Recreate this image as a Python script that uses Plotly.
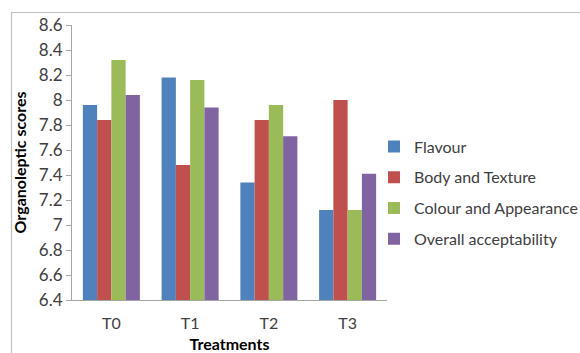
import plotly.graph_objects as go

treatments = ["T0", "T1", "T2", "T3"]
flavour = [7.96, 8.18, 7.34, 7.12]
body_texture = [7.84, 7.48, 7.84, 8.00]
colour_appearance = [8.32, 8.16, 7.96, 7.12]
overall_acceptability = [8.04, 7.94, 7.71, 7.41]

series = [
    ("Flavour", flavour, "#4F81BD"),
    ("Body and Texture", body_texture, "#C0504D"),
    ("Colour and Appearance", colour_appearance, "#9BBB59"),
    ("Overall acceptability", overall_acceptability, "#8064A2"),
]

W, H = 580, 353
L, R, T, B = 72, 193, 25, 53
pw, ph = W - L - R, H - T - B

fig = go.Figure()
for i, (name, vals, col) in enumerate(series):
    fig.add_trace(go.Bar(
        x=treatments, y=vals, name=name, marker_color=col,
        marker_line_width=0, legendgroup=f"g{i}",
    ))

font_family = "Lato, 'Open Sans', sans-serif"

def px_x(p):
    return (p - L) / pw

def px_y(p):
    return (H - B - p) / ph

fig.update_layout(
    width=W, height=H,
    margin=dict(l=L, r=R, t=T, b=B, autoexpand=False),
    paper_bgcolor="white", plot_bgcolor="white",
    barmode="group", bargap=0.276, bargroupgap=0,
    font=dict(family=font_family, color="#404040", size=16),
    showlegend=True,
    legend=dict(
        x=px_x(374), xanchor="left", y=px_y(193), yanchor="middle",
        font=dict(size=16, color="#404040"),
        tracegroupgap=7, itemwidth=30,
        bgcolor="rgba(0,0,0,0)",
    ),
    xaxis=dict(
        automargin=False,
        showline=True, linecolor="#a6a6a6", linewidth=1,
        ticks="", ticklabelstandoff=9,
        tickfont=dict(size=16, color="#404040"),
        title=dict(text="<b>Treatments</b>", font=dict(size=16, color="#000000"), standoff=19),
    ),
    yaxis=dict(
        automargin=False,
        range=[6.4, 8.6], dtick=0.2, tick0=6.4,
        showgrid=False, zeroline=False,
        showline=True, linecolor="#a6a6a6", linewidth=1,
        ticks="outside", ticklen=5, tickcolor="#a6a6a6",
        tickformat="~g",
        tickfont=dict(size=17, color="#404040"),
        title=dict(text="<b>Organoleptic scores</b>", font=dict(size=16, color="#000000"), standoff=8),
    ),
    shapes=[dict(
        type="rect", xref="paper", yref="paper",
        x0=px_x(11.5), x1=px_x(600), y0=px_y(380), y1=px_y(12.5),
        line=dict(color="#bfbfbf", width=1.2), fillcolor="rgba(0,0,0,0)",
        layer="below",
    )],
)

fig.write_html("out.html")
